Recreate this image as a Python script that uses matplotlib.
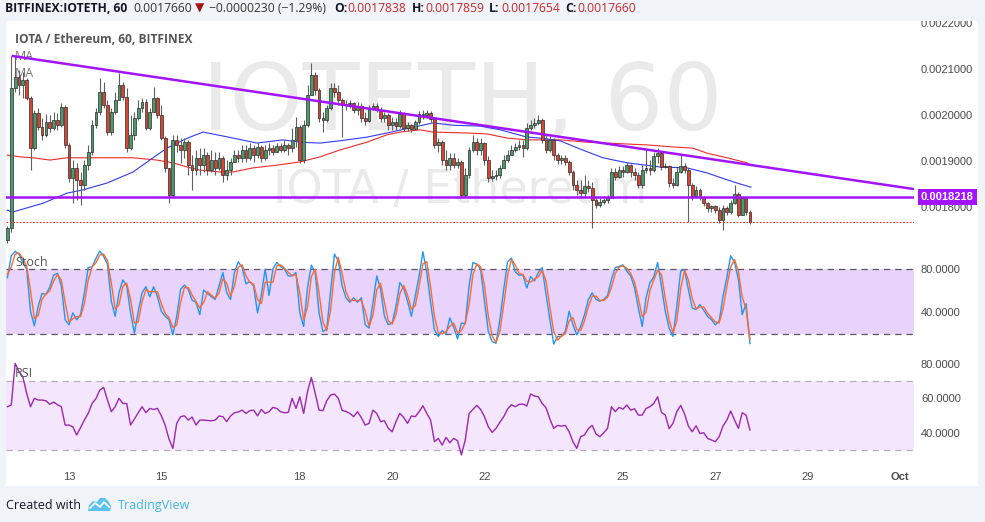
import numpy as np
import matplotlib
matplotlib.use("Agg")
import matplotlib.pyplot as plt
from matplotlib.patches import Rectangle, Polygon

plt.rcParams['font.family'] = ['Liberation Sans', 'DejaVu Sans']

#------------------------------------------------------------------------------
#  data: prices in 1e-6 ETH, time in hours from 13 Sep 00:00 (2 h candles)
#------------------------------------------------------------------------------

bar_hours = np.arange(-32, 356, 2)
first_open = 1728

close = [1754, 2059, 2083, 2066, 2076, 2037, 1928, 2005, 1974, 1957,
         1985, 1972, 1989, 1978, 2018, 1935, 1863, 1885, 1859, 1848,
         1891, 1920, 1978, 2007, 2050, 2022, 1963, 2007, 2033, 2066,
         2039, 1928, 1957, 1994, 2015, 2029, 1972, 2007, 2037, 2000,
         1950, 1885, 1826, 1946, 1935, 1924, 1941, 1891, 1880, 1907,
         1891, 1913, 1880, 1902, 1885, 1907, 1870, 1880, 1898, 1913,
         1907, 1924, 1907, 1928, 1913, 1930, 1907, 1924, 1928, 1920,
         1933, 1924, 1935, 1928, 1946, 1974, 1902, 1978, 2044, 2087,
         2055, 1994, 1989, 2015, 2059, 2050, 2033, 2022, 2024, 2026,
         2011, 2020, 1994, 1987, 2015, 2020, 2011, 1994, 2000, 1978,
         1985, 1976, 2002, 1972, 1978, 1970, 1985, 2002, 2000, 2005,
         1992, 1935, 1941, 1902, 1891, 1907, 1891, 1898, 1826, 1870,
         1924, 1941, 1924, 1939, 1902, 1863, 1867, 1870, 1885, 1902,
         1913, 1924, 1930, 1935, 1928, 1972, 1978, 1983, 1989, 1946,
         1924, 1946, 1913, 1902, 1907, 1898, 1876, 1848, 1837, 1830,
         1845, 1841, 1815, 1804, 1811, 1815, 1819, 1876, 1865, 1880,
         1876, 1891, 1876, 1870, 1848, 1880, 1885, 1880, 1911, 1917,
         1887, 1889, 1852, 1848, 1876, 1889, 1880, 1848, 1824, 1837,
         1822, 1808, 1798, 1802, 1793, 1771, 1798, 1789, 1808, 1828,
         1782, 1819, 1789, 1766]

high = [1758, 2129, 2129, 2098, 2094, 2081, 2042, 2011, 2015, 1994,
        2002, 2000, 2007, 2005, 2026, 2022, 1939, 1902, 1896, 1876,
        1902, 1935, 1989, 2015, 2081, 2072, 2033, 2015, 2050, 2092,
        2072, 2059, 2000, 2007, 2033, 2037, 2035, 2015, 2061, 2039,
        2022, 1954, 1885, 1957, 1957, 1950, 1950, 1945, 1913, 1924,
        1928, 1928, 1920, 1924, 1920, 1920, 1911, 1902, 1907, 1924,
        1924, 1935, 1935, 1939, 1935, 1939, 1935, 1935, 1939, 1935,
        1939, 1939, 1946, 1939, 1972, 1996, 1978, 1989, 2066, 2114,
        2094, 2059, 2007, 2022, 2070, 2070, 2066, 2037, 2033, 2033,
        2029, 2029, 2026, 2007, 2022, 2026, 2026, 2018, 2007, 2004,
        1996, 1994, 2011, 2007, 1985, 1981, 1989, 2009, 2011, 2011,
        2009, 1996, 1950, 1946, 1924, 1917, 1917, 1907, 1902, 1885,
        1930, 1957, 1950, 1950, 1941, 1911, 1880, 1880, 1891, 1913,
        1924, 1935, 1939, 1946, 1946, 1983, 1989, 1994, 2000, 1994,
        1957, 1957, 1950, 1917, 1913, 1913, 1902, 1880, 1859, 1859,
        1870, 1859, 1854, 1819, 1819, 1824, 1826, 1885, 1885, 1889,
        1889, 1898, 1894, 1885, 1876, 1891, 1924, 1902, 1920, 1928,
        1920, 1896, 1891, 1863, 1887, 1913, 1896, 1885, 1852, 1845,
        1841, 1824, 1811, 1804, 1804, 1800, 1804, 1802, 1815, 1848,
        1832, 1824, 1822, 1793]

low = [1721, 1745, 2050, 2044, 2037, 2033, 1880, 1924, 1968, 1946,
       1952, 1963, 1968, 1968, 1974, 1928, 1854, 1808, 1815, 1804,
       1837, 1880, 1913, 1972, 2000, 2015, 1957, 1957, 2002, 2033,
       2033, 1920, 1924, 1946, 1989, 2007, 1968, 1968, 2007, 1994,
       1946, 1876, 1808, 1819, 1920, 1896, 1907, 1870, 1837, 1870,
       1870, 1876, 1870, 1876, 1870, 1880, 1854, 1859, 1870, 1898,
       1898, 1898, 1898, 1902, 1898, 1907, 1898, 1902, 1913, 1913,
       1920, 1920, 1920, 1913, 1920, 1930, 1896, 1896, 1974, 2044,
       2044, 1985, 1963, 1985, 2011, 2039, 2022, 1952, 2011, 2015,
       2005, 2000, 1985, 1978, 1985, 2011, 2007, 1985, 1985, 1968,
       1968, 1968, 1972, 1965, 1965, 1963, 1968, 1981, 1992, 1994,
       1985, 1928, 1920, 1891, 1880, 1880, 1885, 1885, 1822, 1822,
       1863, 1920, 1913, 1913, 1891, 1854, 1856, 1859, 1863, 1885,
       1898, 1913, 1920, 1924, 1909, 1924, 1968, 1972, 1978, 1939,
       1917, 1920, 1902, 1893, 1893, 1891, 1870, 1837, 1826, 1819,
       1822, 1832, 1754, 1798, 1800, 1806, 1808, 1819, 1859, 1863,
       1865, 1874, 1865, 1859, 1841, 1841, 1874, 1870, 1876, 1896,
       1880, 1885, 1843, 1841, 1845, 1874, 1874, 1767, 1815, 1819,
       1815, 1802, 1789, 1789, 1787, 1765, 1750, 1782, 1785, 1806,
       1778, 1782, 1782, 1763]

stoch_k = [72.2, 92.5, 96.5, 94.0, 86.2, 80.0, 40.9, 27.5, 45.6, 57.5,
           56.5, 63.4, 74.4, 76.2, 64.4, 33.1, 28.4, 39.4, 33.1, 37.8,
           58.1, 81.5, 82.2, 90.0, 96.9, 91.9, 84.7, 50.3, 36.2, 58.1,
           70.0, 64.4, 39.4, 20.6, 40.9, 58.1, 63.7, 54.4, 63.7, 54.4,
           40.9, 36.2, 33.1, 19.0, 36.2, 61.2, 65.3, 61.2, 51.2, 49.3,
           37.8, 60.6, 57.5, 54.4, 51.9, 64.4, 76.9, 58.1, 51.9, 76.9,
           86.8, 81.5, 66.5, 68.4, 64.4, 39.4, 56.5, 80.0, 55.6, 80.0,
           86.2, 82.5, 80.0, 73.7, 73.7, 76.9, 39.4, 26.9, 62.8, 83.7,
           76.9, 39.4, 22.2, 24.3, 59.7, 94.0, 87.8, 64.4, 53.4, 49.3,
           53.4, 49.3, 53.4, 28.4, 25.3, 48.7, 73.7, 61.2, 36.2, 28.4,
           30.0, 45.6, 67.5, 62.2, 50.3, 36.2, 55.0, 73.7, 96.2, 76.9,
           48.7, 23.7, 17.5, 23.1, 20.0, 34.7, 26.2, 15.3, 30.0, 29.4,
           64.4, 86.2, 84.7, 80.0, 50.3, 22.2, 12.8, 11.2, 33.1, 61.2,
           86.8, 90.3, 77.5, 74.4, 74.7, 62.5, 73.1, 69.0, 76.9, 81.5,
           56.5, 33.1, 10.6, 17.5, 17.5, 22.2, 40.9, 28.4, 19.0, 26.9,
           37.8, 51.9, 58.1, 51.9, 50.3, 51.9, 55.6, 70.6, 81.5, 82.5,
           84.0, 78.1, 73.7, 62.8, 44.0, 26.9, 53.4, 67.5, 72.8, 86.2,
           64.4, 40.9, 25.3, 17.5, 45.6, 78.4, 79.3, 61.2, 44.0, 42.5,
           47.2, 41.9, 36.2, 33.1, 28.4, 31.5, 55.0, 72.2, 92.5, 86.2,
           70.6, 37.8, 48.0, 11.0]

stoch_d = [75, 82, 94, 95, 90, 83, 60, 34, 37, 52,
           57, 60, 69, 75, 70, 49, 31, 34, 36, 36,
           48, 70, 82, 86, 93, 94, 88, 67, 43, 47,
           64, 67, 52, 30, 31, 50, 61, 59, 59, 59,
           48, 39, 35, 26, 28, 49, 63, 63, 56, 50,
           44, 49, 59, 56, 53, 58, 71, 67, 55, 64,
           82, 84, 74, 68, 66, 52, 48, 68, 68, 68,
           83, 84, 81, 77, 74, 75, 58, 33, 45, 73,
           80, 58, 31, 23, 42, 77, 91, 76, 59, 51,
           51, 51, 51, 41, 27, 37, 61, 67, 49, 32,
           29, 38, 57, 65, 56, 43, 46, 64, 85, 87,
           63, 36, 21, 20, 22, 27, 30, 21, 23, 30,
           47, 75, 85, 82, 65, 36, 18, 12, 22, 47,
           74, 89, 84, 76, 75, 69, 68, 71, 73, 79,
           69, 45, 22, 14, 18, 20, 32, 35, 24, 23,
           32, 45, 55, 55, 51, 51, 54, 63, 76, 82,
           83, 81, 76, 68, 53, 36, 40, 60, 70, 79,
           75, 53, 33, 21, 32, 62, 79, 70, 53, 43,
           45, 45, 39, 35, 31, 30, 43, 64, 82, 89,
           78, 54, 43, 15]

rsi = [55.1, 56.1, 80.4, 75.5, 72.6, 62.9, 55.1, 60.0, 59.0, 59.0,
       58.6, 56.5, 57.8, 56.3, 55.1, 44.4, 44.4, 43.4, 38.6, 42.9,
       47.3, 51.2, 57.0, 59.8, 64.8, 66.4, 59.0, 52.2, 55.1, 60.0,
       57.0, 57.0, 44.4, 47.9, 51.6, 55.1, 51.6, 54.1, 53.5, 54.1,
       49.8, 44.4, 36.2, 30.8, 45.4, 49.3, 49.8, 47.3, 49.1, 44.4,
       47.3, 47.3, 47.1, 46.9, 47.3, 49.7, 49.3, 46.4, 49.7, 51.6,
       52.0, 53.1, 51.2, 52.8, 53.1, 49.8, 53.5, 51.2, 52.2, 54.7,
       54.1, 52.2, 51.6, 51.8, 60.0, 54.1, 60.9, 51.2, 63.9, 72.2,
       62.9, 53.1, 52.8, 58.6, 61.9, 62.5, 60.0, 52.9, 52.4, 51.2,
       49.3, 52.2, 48.7, 44.4, 45.4, 53.1, 51.2, 46.4, 46.9, 42.5,
       40.5, 46.4, 51.2, 48.9, 45.4, 49.7, 49.3, 52.2, 55.7, 51.2,
       47.3, 34.7, 36.6, 32.7, 37.2, 34.1, 36.6, 35.3, 27.0, 35.7,
       51.2, 53.5, 55.9, 53.5, 49.3, 43.4, 40.1, 42.5, 46.0, 49.3,
       53.7, 56.3, 55.1, 56.5, 56.7, 55.5, 62.5, 61.3, 60.9, 57.0,
       54.5, 47.9, 42.5, 44.2, 43.8, 44.2, 40.5, 34.7, 30.8, 37.6,
       38.6, 42.3, 44.2, 39.2, 37.6, 39.9, 42.5, 55.1, 52.2, 54.7,
       53.7, 56.1, 53.1, 53.9, 50.2, 50.2, 54.1, 55.1, 57.0, 60.9,
       51.8, 50.2, 42.3, 45.4, 52.2, 55.9, 51.0, 43.8, 40.5, 44.0,
       39.5, 39.9, 36.6, 35.7, 34.7, 37.6, 43.8, 47.3, 52.6, 47.3,
       42.5, 51.6, 50.2, 41.5]

ma_fast_t = [-32.2, -29.1, -13.5, -1.0, 7.3, 19.8, 33.3, 43.7, 50.9, 56.1,
             62.9, 69.7, 76.9, 85.3, 97.7, 111.3, 120.1, 130.5, 140.9, 154.9,
             165.3, 177.3, 189.2, 199.6, 213.7, 224.1, 238.1, 244.9, 255.3, 265.7,
             277.6, 290.1, 307.2, 321.3, 331.7, 342.1, 348.8, 354.5]
ma_fast_v = [1793, 1789, 1808, 1830, 1837, 1852, 1876, 1907, 1928, 1939,
             1952, 1963, 1957, 1950, 1939, 1946, 1941, 1939, 1944, 1952,
             1961, 1972, 1983, 1978, 1976, 1968, 1952, 1950, 1944, 1926,
             1907, 1896, 1887, 1885, 1874, 1859, 1850, 1843]

ma_slow_t = [-32.2, -25.5, -18.7, -9.9, -1.0, 16.1, 33.3, 45.7, 54.1, 61.3,
             68.1, 78.5, 85.3, 95.7, 108.1, 120.1, 130.5, 140.9, 154.9, 165.3,
             172.1, 182.5, 189.2, 206.9, 217.3, 227.7, 238.1, 255.3, 269.3, 290.1,
             300.5, 316.1, 324.4, 331.7, 342.1, 352.5, 354.5]
ma_slow_v = [1913, 1909, 1907, 1902, 1907, 1907, 1907, 1902, 1896, 1887,
             1880, 1876, 1876, 1885, 1891, 1898, 1909, 1924, 1941, 1957,
             1963, 1968, 1963, 1961, 1959, 1950, 1946, 1946, 1941, 1937,
             1935, 1930, 1928, 1917, 1907, 1896, 1891]

trend_t = [-29.8, 439.3]
trend_v = [2129, 1838.8]
support = 1821.8
last_price = 1766.0

day_ticks = [0, 48, 120, 168, 216, 288, 336, 384, 432]
day_labels = ['13', '15', '18', '20', '22', '25', '27', '29', 'Oct']
price_ticks = [1800, 1900, 2000, 2100, 2200]

# header pieces: text, colour, weight, left edge in pixels
header_parts = [("BITFINEX:IOTETH, 60", '#131722', 'bold', 5),
                ("0.0017660", '#333333', 'normal', 133),
                ("\u25bc", '#a31515', 'normal', 195),
                ("\u22120.0000230 (\u22121.29%)", '#333333', 'normal', 209),
                ("O:", '#131722', 'bold', 334), ("0.0017838", '#c62828', 'normal', 347),
                ("H:", '#131722', 'bold', 412), ("0.0017859", '#c62828', 'normal', 425),
                ("L:", '#131722', 'bold', 489), ("0.0017654", '#c62828', 'normal', 501),
                ("C:", '#131722', 'bold', 565), ("0.0017660", '#c62828', 'normal', 577)]

#------------------------------------------------------------------------------
#  figure
#------------------------------------------------------------------------------

W, H = 985, 522
def fx(px): return px / W
def fy(py): return 1 - py / H

bg = '#f0f3f8'
ui_font = ['Open Sans', 'DejaVu Sans']
sc = 1e-6

fig = plt.figure(figsize=(W / 100, H / 100), dpi=100, facecolor=bg)
fig.add_artist(Rectangle((fx(6), fy(486)), fx(972), 465 / H, transform=fig.transFigure,
                         facecolor='white', edgecolor='none', zorder=-10))

ax_p = fig.add_axes([fx(6), fy(247), fx(908), 226 / H])
ax_s = fig.add_axes([fx(6), fy(356), fx(908), 109 / H], sharex=ax_p)
ax_r = fig.add_axes([fx(6), fy(465), fx(908), 109 / H], sharex=ax_p)

for a in (ax_p, ax_s, ax_r):
    a.set_facecolor('none')
    for s in a.spines.values():
        s.set_visible(False)
    a.yaxis.tick_right()
    a.tick_params(axis='y', length=0, pad=5, labelsize=8, labelcolor='#4a4a4a')
    a.tick_params(axis='x', length=0)

# ---- price panel
x = bar_hours
c = np.array(close) * sc
h = np.array(high) * sc
l = np.array(low) * sc
o = np.concatenate([[first_open * sc], c[:-1]])
up = c >= o

ax_p.text(fx(462), fy(130), "IOTETH, 60", transform=fig.transFigure, ha='center', va='baseline',
          fontsize=67, color='#eaeaea', family='DejaVu Sans', zorder=0.5)
ax_p.text(fx(460), fy(203), "IOTA / Ethereum", transform=fig.transFigure, ha='center', va='baseline',
          fontsize=33, color='#eaeaea', family='DejaVu Sans', zorder=0.5)
ax_p.text(fx(15), fy(60), "MA", transform=fig.transFigure, fontsize=9, color='#777777',
          family=ui_font, zorder=0.6)
ax_p.text(fx(15), fy(77), "MA", transform=fig.transFigure, fontsize=9, color='#777777',
          family=ui_font, zorder=0.6)

ax_p.plot(ma_slow_t, np.array(ma_slow_v) * sc, color='#f02a2a', lw=0.8, zorder=1)
ax_p.plot(ma_fast_t, np.array(ma_fast_v) * sc, color='#2f3cf0', lw=0.8, zorder=1)

ax_p.vlines(x, l, h, color='#606060', lw=0.8, zorder=2)
body = np.maximum(np.abs(c - o), 0.8 * sc)
ax_p.bar(x, body, bottom=np.minimum(o, c), width=1.45,
         color=np.where(up, '#4c9a6a', '#d6452f'), edgecolor='#2b2b2b', linewidth=0.5, zorder=3)

ax_p.plot(trend_t, np.array(trend_v) * sc, color='#a313ff', lw=1.8, zorder=4, solid_capstyle='butt')
ax_p.axhline(support * sc, color='#a313ff', lw=1.8, zorder=4)
ax_p.axhline(last_price * sc, color='#e5332a', lw=0.8, ls=(0, (1.5, 1.5)), zorder=4)

ax_p.set_xlim(-32.75, 439.3)
ax_p.set_ylim(0.0017126, 0.0022050)
ax_p.set_yticks(np.array(price_ticks) * sc)
ax_p.set_yticklabels(['%.7f' % (v * sc) for v in price_ticks])
ax_p.annotate('%.7f' % (support * sc), xy=(1.0, support * sc), xycoords=('axes fraction', 'data'),
              xytext=(5, 0), textcoords='offset points', va='center', ha='left',
              fontsize=8, color='white', weight='bold', annotation_clip=False, zorder=6,
              bbox=dict(boxstyle='square,pad=0.25', fc='#a313ff', ec='none'))
plt.setp(ax_p.get_xticklabels(), visible=False)

# ---- stochastic panel
ax_s.axhspan(20, 80, color='#e9d2fc', lw=0, zorder=0)
for lv in (20, 80):
    ax_s.axhline(lv, color='#5c5462', lw=0.9, ls=(0, (5, 4)), zorder=1)
ax_s.plot(x, stoch_k, color='#2196f3', lw=1.0, zorder=2)
ax_s.plot(x, stoch_d, color='#ff6a2b', lw=1.0, zorder=2)
ax_s.set_ylim(-0.6, 100.6)
ax_s.set_yticks([40, 80])
ax_s.set_yticklabels(['40.0000', '80.0000'])
plt.setp(ax_s.get_xticklabels(), visible=False)
ax_s.text(fx(15), fy(266), "Stoch", transform=fig.transFigure, fontsize=9, color='#555555',
          family=ui_font, zorder=3)

# ---- RSI panel
ax_r.axhspan(30, 70, color='#f4e7fd', lw=0, zorder=0)
for lv in (30, 70):
    ax_r.axhline(lv, color='#b9aac0', lw=0.9, ls=(0, (5, 4)), zorder=1)
ax_r.plot(x, rsi, color='#9c27b0', lw=1.0, zorder=2)
ax_r.set_ylim(21.1, 84.7)
ax_r.set_yticks([40, 60, 80])
ax_r.set_yticklabels(['40.0000', '60.0000', '80.0000'])
ax_r.set_xticks(day_ticks)
ax_r.set_xticklabels(day_labels)
ax_r.tick_params(axis='x', pad=5, labelsize=8, labelcolor='#4a4a4a')
ax_r.get_xticklabels()[-1].set_fontweight('bold')
ax_r.text(fx(15), fy(377), "RSI", transform=fig.transFigure, fontsize=9, color='#555555',
          family=ui_font, zorder=3)

# ---- header bar and titles
fig.add_artist(Rectangle((0, fy(21)), 1, 21 / H, transform=fig.transFigure,
                         facecolor=bg, edgecolor='none', zorder=5))
fig.text(fx(15), fy(43), "IOTA / Ethereum, 60, BITFINEX", fontsize=8.6, color='#555555',
         weight='bold', family=ui_font, zorder=6)

for txt, col, wt, px in header_parts:
    fig.text(fx(px), fy(12), txt, fontsize=8.7, color=col, weight=wt,
             family=ui_font, va='baseline', zorder=6)

# ---- footer
fig.text(fx(6), fy(509), "Created with", fontsize=9, color='#131722', family=ui_font)
fig.add_artist(Polygon([(fx(88), fy(511)), (fx(89), fy(505)), (fx(93), fy(501)), (fx(97), fy(502)),
                        (fx(100), fy(498)), (fx(105), fy(498)), (fx(109), fy(502)), (fx(111), fy(507)),
                        (fx(110), fy(511))], closed=True, transform=fig.transFigure,
                       facecolor='#5cc3ee', edgecolor='none'))
fig.add_artist(plt.Line2D([fx(90), fx(95), fx(100), fx(104), fx(109)],
                          [fy(508), fy(503), fy(507), fy(502), fy(507)],
                          transform=fig.transFigure, color='white', lw=1.2))
fig.text(fx(118), fy(509), "TradingView", fontsize=9, color='#45b4e6', family=ui_font)

fig.savefig('out.png', dpi=100, facecolor=bg)
